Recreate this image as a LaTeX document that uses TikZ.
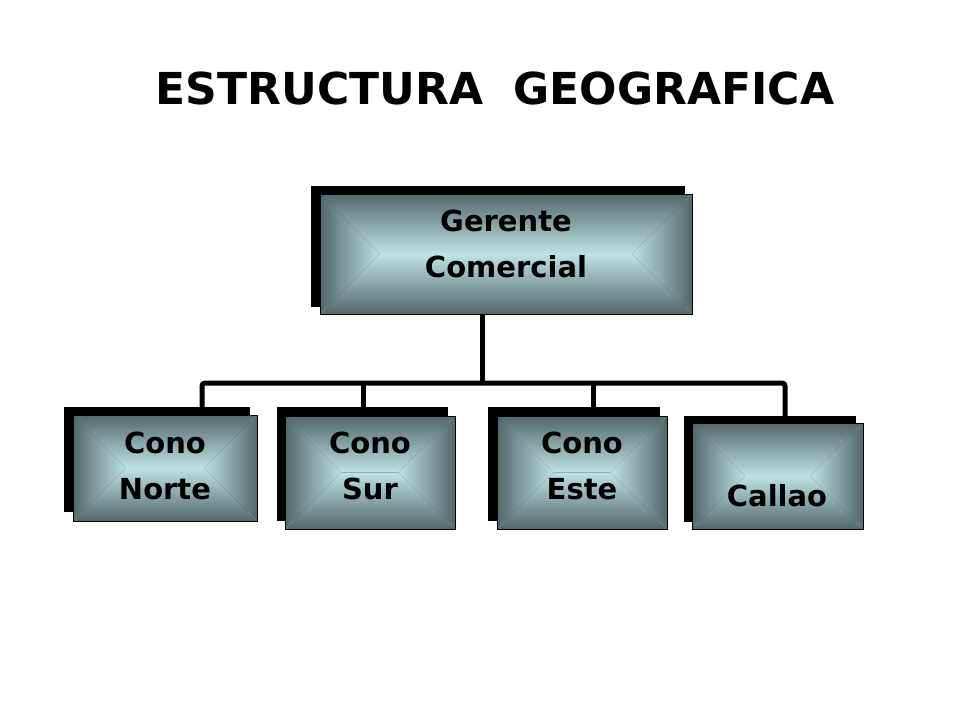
\documentclass[tikz,border=0pt]{standalone}
\usepackage{fontspec}
\setmainfont{DejaVu Sans}
\definecolor{edgec}{HTML}{52676A}
\definecolor{lightc}{HTML}{BEE2E5}
\newcommand{\gradbox}[4]{%
  \pgfmathsetmacro{\gd}{(#4-#2)/2}%
  \pgfmathsetmacro{\gxa}{#1+\gd}%
  \pgfmathsetmacro{\gxb}{#3-\gd}%
  \pgfmathsetmacro{\gym}{(#2+#4)/2}%
  \shade[top color=edgec, bottom color=lightc] (#1,#2) -- (#3,#2) -- (\gxb,\gym) -- (\gxa,\gym) -- cycle;
  \shade[top color=lightc, bottom color=edgec] (#1,#4) -- (#3,#4) -- (\gxb,\gym) -- (\gxa,\gym) -- cycle;
  \shade[left color=edgec, right color=lightc] (#1,#2) -- (\gxa,\gym) -- (#1,#4) -- cycle;
  \shade[left color=lightc, right color=edgec] (#3,#2) -- (\gxb,\gym) -- (#3,#4) -- cycle;
}
\tikzset{
  shadowbox/.style={fill=black, draw=none},
  frame/.style={draw=black, line width=1pt, inner sep=0pt},
  conn/.style={line width=5pt, draw=black},
  lbl/.style={font=\bfseries\fontsize{29}{46}\selectfont, inner sep=0pt},
  ttl/.style={font=\bfseries\fontsize{44}{50}\selectfont, inner sep=0pt}
}
\begin{document}
\begin{tikzpicture}[x=1pt,y=-1pt]
\useasboundingbox (0,0) rectangle (960,720);
\node[ttl] (title) at (495,88) {ESTRUCTURA\ \ GEOGRAFICA};
% connectors
\coordinate (bus) at (482,383);
\coordinate (d1) at (202,410);
\coordinate (d2) at (363,410);
\coordinate (d3) at (593,410);
\coordinate (d4) at (785,418);
\coordinate (topbot) at (482,312);
\draw[conn] (topbot) -- (topbot |- bus);
\draw[conn, rounded corners=3pt] (d1) -- (d1 |- bus) -- (d4 |- bus) -- (d4);
\draw[conn] (d2) -- (d2 |- bus);
\draw[conn] (d3) -- (d3 |- bus);
% top box
\fill[shadowbox] (311,186) rectangle (685,307);
\gradbox{320}{194}{692}{314}
\node[frame, minimum width=372pt, minimum height=120pt] (top) at (506,254) {};
\node[lbl, align=center] (toptext) at (506,244) {Gerente\\Comercial};
% box 1
\fill[shadowbox] (64,407) rectangle (250,512);
\gradbox{73}{415}{257}{521}
\node[frame, minimum width=184pt, minimum height=106pt] (b1) at (165,468) {};
\node[lbl, align=center] (b1t) at (165,466) {Cono\\Norte};
% box 2
\fill[shadowbox] (277,407) rectangle (448,521);
\gradbox{285}{416}{455}{529}
\node[frame, minimum width=170pt, minimum height=113pt] (b2) at (370,472.5) {};
\node[lbl, align=center] (b2t) at (370,466) {Cono\\Sur};
% box 3
\fill[shadowbox] (488,407) rectangle (660,521);
\gradbox{497}{416}{667}{529}
\node[frame, minimum width=170pt, minimum height=113pt] (b3) at (582,472.5) {};
\node[lbl, align=center] (b3t) at (582,466) {Cono\\Este};
% box 4
\fill[shadowbox] (684,416) rectangle (856,522);
\gradbox{692}{423}{863}{529}
\node[frame, minimum width=171pt, minimum height=106pt] (b4) at (777.5,476) {};
\node[lbl] (b4t) at (777,496) {Callao};
\end{tikzpicture}
\end{document}
